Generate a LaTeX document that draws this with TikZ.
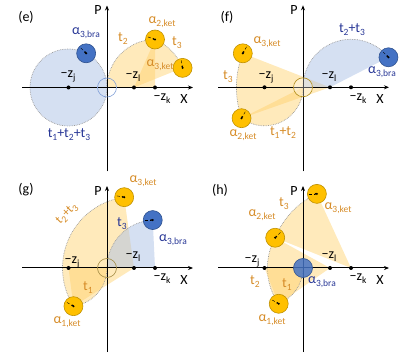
\documentclass[tikz,border=0pt]{standalone}
\usepackage{fontspec}
\setmainfont{Carlito}
\usetikzlibrary{arrows.meta}
\definecolor{gold}{RGB}{255,192,0}
\definecolor{golddk}{RGB}{191,144,0}
\definecolor{ocol}{RGB}{255,208,105}
\definecolor{bcol}{RGB}{68,114,196}
\definecolor{bcoldk}{RGB}{47,82,143}
\definecolor{lbcol}{RGB}{172,193,230}
\definecolor{otext}{RGB}{214,140,40}
\definecolor{ntext}{RGB}{40,55,150}
\tikzset{
  axis/.style={line width=1pt,-{Stealth[length=5pt,width=4pt]}},
  rim/.style={gray!80,densely dotted,line width=0.7pt},
  ofill/.style={fill=ocol,fill opacity=0.45},
  bfill/.style={fill=lbcol,fill opacity=0.5},
  ket/.style={circle,minimum size=19pt,inner sep=0pt,fill=gold,draw=golddk,line width=0.6pt},
  bra/.style={ket,fill=bcol,draw=bcoldk},
  ptr/.style={densely dashed,line width=0.4pt,-{Latex[length=2pt,width=2pt]}},
  lab/.style={inner sep=0pt,font=\fontsize{14}{16}\selectfont},
  olab/.style={lab,text=otext},
  nlab/.style={lab,text=ntext},
}
\newcommand\lo[1]{\raisebox{-3pt}{\fontsize{9.5}{10}\selectfont #1}}
% sector: style, centre, start angle, end angle, radius, name of end point
\newcommand\rotsector[6]{%
  \fill[#1] (#2) -- ++(#3:#5) arc[start angle=#3,end angle=#4,radius=#5] coordinate (#6) -- cycle;
  \draw[rim] (#2) ++(#3:#5) arc[start angle=#3,end angle=#4,radius=#5];}
\begin{document}
\begin{tikzpicture}[x=1pt,y=1pt]
  \useasboundingbox (0,0) rectangle (416,357);
  \foreach \p/\ox/\oy in {e/107/269.5,f/303/269.7,g/107/89,h/303/89} {
    \coordinate (\p O) at (\ox,\oy);
    \coordinate (\p zj) at (\ox-38.5,\oy);
    \coordinate (\p zl) at (\ox+27,\oy);
    \coordinate (\p zk) at (\ox+48,\oy);
    \coordinate (\p L) at (\ox-85,\oy);
    \coordinate (\p R) at (\ox+86,\oy);
    \coordinate (\p B) at (\ox,\oy-84);
    \coordinate (\p T) at (\ox,\oy+82);
  }
  % (e)
  \fill[bfill] (ezj) circle[radius=38.5];
  \draw[rim] (ezj) circle[radius=38.5];
  \path (ezj) ++(62.7:38.5) coordinate (eb3);
  \rotsector{ofill}{ezk}{180}{90}{48}{ek2}
  \rotsector{ofill}{ezl}{66.4}{22}{52.4}{ek3}
  % (f)
  \fill[ofill] (fO) arc[start angle=0,end angle=-126.6,radius=38.5] coordinate (fk2) -- cycle;
  \draw[rim] (fO) arc[start angle=0,end angle=-126.6,radius=38.5];
  \rotsector{ofill}{fzl}{199.3}{158.7}{93.6}{fk3}
  \fill[bfill] (fO) arc[start angle=180,end angle=38.7,radius=48] coordinate (fb3) -- (fzl) -- cycle;
  \draw[rim] (fO) arc[start angle=180,end angle=38.7,radius=48];
  % (g)
  \rotsector{ofill}{gzl}{212.3}{97.9}{71.5}{gk3}
  \rotsector{ofill}{gzj}{0}{-82.6}{38.5}{gk1}
  \rotsector{bfill}{gzk}{180}{92.7}{48}{gb3}
  % (h)
  \rotsector{ofill}{hzk}{158.2}{114.7}{81.6}{hk3}
  \rotsector{ofill}{hzl}{214.9}{151.1}{62.6}{hk2}
  \rotsector{ofill}{hzj}{0}{-68.3}{38.5}{hk1}
  % axes and points
  \foreach \p in {e,f,g,h} {
    \draw[axis] (\p L) -- (\p R);
    \draw[axis] (\p B) -- (\p T);
    \foreach \z in {zj,zl,zk} \fill (\p\z) circle[radius=2];
    \node[lab] (\p P) at ([shift={(-9,77)}]\p O) {P};
    \node[lab] (\p X) at ([shift={(77,-12)}]\p O) {X};
    \node[lab] (\p ml) at ([shift={(26,11)}]\p O) {−z\lo{l}};
    \node[lab] (\p mk) at ([shift={(55,-11)}]\p O) {−z\lo{k}};
  }
  \node[circle,minimum size=19pt,draw=bcol!70,line width=0.6pt] (eC) at (eO) {};
  \node[circle,minimum size=19pt,draw=golddk!80!gray,fill=white,fill opacity=0.3,line width=0.6pt] (fC) at (fO) {};
  \node[circle,minimum size=19pt,draw=golddk!50!gray,line width=0.6pt] (gC) at (gO) {};
  \node[bra,fill opacity=0.85] (hB3) at (hO) {};
  % states
  \node[bra] (eB3) at (eb3) {};
  \node[ket] (eK2) at (ek2) {};
  \node[ket] (eK3) at (ek3) {};
  \node[ket] (fK2) at (fk2) {};
  \node[ket] (fK3) at (fk3) {};
  \node[bra] (fB3) at (fb3) {};
  \node[ket] (gK1) at (gk1) {};
  \node[ket] (gK3) at (gk3) {};
  \node[bra] (gB3) at (gb3) {};
  \node[ket] (hK1) at (hk1) {};
  \node[ket] (hK2) at (hk2) {};
  \node[ket] (hK3) at (hk3) {};
  \foreach \n/\a in {eB3/135,eK2/160,eK3/100,fK3/60,fK2/60,fB3/135,gK3/170,gK1/150,gB3/180,hK3/180,hK2/45,hK1/150} {
    \draw[ptr] (\n.center) ++(\a:7.5) -- (\n.center);
    \fill (\n.center) circle[radius=1.2];
  }
  % labels
  \node[lab] (eTag) at (26,340) {(e)};
  \node[lab] (emj) at (68,281) {−z\lo{j}};
  \node[nlab] (eLb3) at (86,324) {α\lo{3,bra}};
  \node[olab] (eLt2) at (123,318) {t\lo{2}};
  \node[olab] (eLk2) at (162,335) {α\lo{2,ket}};
  \node[olab] (eLt3) at (177,314) {t\lo{3}};
  \node[olab] (eLk3) at (160,292) {α\lo{3,ket}};
  \node[nlab] (eLsum) at (69,222) {t\lo{1}+t\lo{2}+t\lo{3}};
  \node[lab] (fTag) at (227,340) {(f)};
  \node[lab] (fmj) at (266,280) {−z\lo{j}};
  \node[olab] (fLk3) at (267,315) {α\lo{3,ket}};
  \node[nlab] (fLsum) at (352,327) {t\lo{2}+t\lo{3}};
  \node[olab] (fLt3) at (228,280) {t\lo{3}};
  \node[nlab] (fLb3) at (382,285) {α\lo{3,bra}};
  \node[olab] (fLk2) at (243,222) {α\lo{2,ket}};
  \node[olab] (fLt12) at (283,224) {t\lo{1}+t\lo{2}};
  \node[lab] (gTag) at (26,167) {(g)};
  \node[lab] (gmj) at (72,95) {−z\lo{j}};
  \node[olab] (gLk3) at (143,176) {α\lo{3,ket}};
  \node[olab,rotate=45,font=\fontsize{12.5}{14}\selectfont] (gLt23) at (67,143) {t\lo{2}+t\lo{3}};
  \node[nlab] (gLt3) at (122,133) {t\lo{3}};
  \node[nlab] (gLb3) at (173,117) {α\lo{3,bra}};
  \node[olab] (gLt1) at (88,69) {t\lo{1}};
  \node[olab] (gLk1) at (67,35) {α\lo{1,ket}};
  \node[lab] (hTag) at (220,167) {(h)};
  \node[lab] (hmj) at (252,96) {−z\lo{j}};
  \node[olab] (hLt3) at (284,153) {t\lo{3}};
  \node[olab] (hLk2) at (262,142) {α\lo{2,ket}};
  \node[olab] (hLk3) at (338,149) {α\lo{3,ket}};
  \node[olab] (hLt2) at (255,75) {t\lo{2}};
  \node[olab] (hLt1) at (287,72) {t\lo{1}};
  \node[nlab] (hLb3) at (322,75) {α\lo{3,bra}};
  \node[olab] (hLk1) at (272,37) {α\lo{1,ket}};
\end{tikzpicture}
\end{document}
